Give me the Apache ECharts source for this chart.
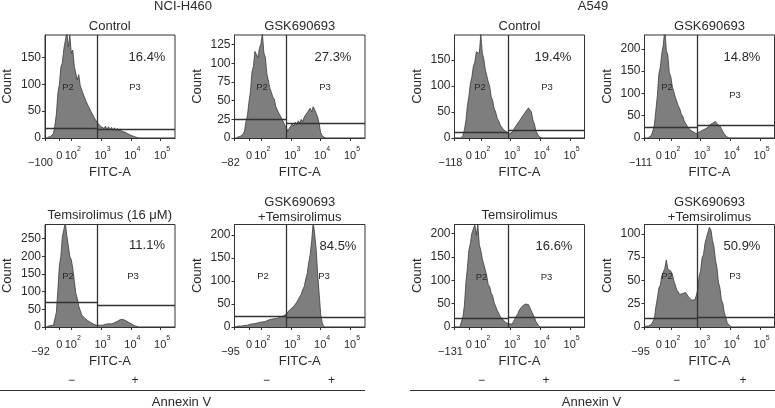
<!DOCTYPE html>
<html><head><meta charset="utf-8">
<script src="https://cdn.jsdelivr.net/npm/echarts@6/dist/echarts.min.js"></script>
<style>html,body{margin:0;padding:0;background:#fff}#c{width:775px;height:408px}</style>
</head><body><div id="c"></div>
<script>
// ---------- DATA ----------
// Display scale of the FITC-A (biexponential) axis: 10^2 -> 2, 10^3 -> 3, 10^4 -> 4, 10^5 -> 5
const binStep = 0.05;
const xMin = 1.117, xMax = 5.483;
const xTickPos = [1.117, 1.6, 2, 3, 4, 5];
const xTickText = [null, '0', '10{s|2}', '10{s|3}', '10{s|4}', '10{s|5}'];
const xMinLabels = ['\u2212100', '\u221282', '\u2212118', '\u2212111', '\u221292', '\u221295', '\u2212131', '\u221295'];

const panelTitles = [['Control'], ['GSK690693'], ['Control'], ['GSK690693'],
  ['Temsirolimus (16 \u03bcM)'], ['GSK690693', '+Temsirolimus'], ['Temsirolimus'], ['GSK690693', '+Temsirolimus']];
const pctLabels = ['16.4%', '27.3%', '19.4%', '14.8%', '11.1%', '84.5%', '16.6%', '50.9%'];

const yMax = [192, 138, 198, 231, 290, 223, 219, 110];
const yTicks = [[0, 50, 100, 150], [0, 25, 50, 75, 100, 125], [0, 50, 100, 150], [0, 50, 100, 150, 200],
  [0, 50, 100, 150, 200, 250], [0, 50, 100, 150, 200], [0, 50, 100, 150, 200], [0, 25, 50, 75, 100]];

// gates: vertical marker position, P2 (left) and P3 (right) horizontal levels
const gateX = [2.864, 2.863, 2.917, 2.883, 2.883, 2.863, 2.917, 2.897];
const gateLeftY = [17.5, 24.5, 11.5, 24, 70.8, 23.3, 19, 9.3];
const gateRightY = [15.6, 20, 14, 27.6, 61.3, 20.4, 21, 10.7];

// histogram counts, bins of width binStep starting at the given position
const h460ControlStart = 1.20;
const h460Control = [1,2,3,6,8,24,45,84,100,132, 140,166,168,198,170,192,158,164,134,132,
  108,118,98,100,82,84,68,71,56,58, 45,46,35,36,27,28,21,24,18,22,
  16,21,15,20,14,19,14,18,13,17, 12,15,11,13,8,10,5,6,3,2, 1,0];
const h460GskStart = 1.20;
const h460Gsk = [1,1,2,3,5,9,22,30,48,62, 88,96,116,112,108,120,126,140,114,108,
  86,85,67,66,55,52,42,42,33,34, 26,25,17,14,9,13,15,19,16,21,
  18,23,20,25,22,28,28,34,33,40, 35,42,38,37,28,19,7,3,1,0];
const a549ControlStart = 1.35;
const a549Control = [1,5,16,33,62,80,105,117,138,146, 166,168,162,200,164,152,132,131,108,99,
  79,72,56,50,38,33,25,23,17,16, 12,11,8,11,11,16,18,25,27,33,
  34,42,43,50,51,58,56,50,34,27, 14,8,3,1,0];
const a549GskStart = 1.25;
const a549Gsk = [1,2,6,16,30,63,96,144,160,190, 210,245,196,186,146,138,116,113,92,88,
  72,66,54,49,38,35,27,23,18,18, 14,14,10,13,13,17,17,20,20,23,
  24,29,29,33,33,37,32,32,27,21, 14,10,4,2,0];
const h460TemStart = 1.20;
const h460Tem = [2,3,4,4,5,8,42,106,174,200, 255,276,295,258,230,200,190,166,132,96,
  81,59,47,34,31,25,22,18,17,13, 13,8,9,5,6,5,8,5,9,8,
  9,9,12,9,13,12,16,16,20,21, 25,21,21,17,16,12,11,7,5,3, 1,0];
const h460ComboStart = 1.15;
const h460Combo = [0.5,1,2,3,2,4,3,6,4,7, 6,8,7,10,8,11,10,12,11,15,
  12,16,15,17,17,19,18,21,19,23, 22,24,24,28,28,33,34,39,40,45,
  47,54,57,66,71,82,88,104,116,140, 158,188,228,202,168,115,72,28,9,1, 0];
const a549TemStart = 1.30;
const a549Tem = [1,4,22,46,94,126,164,178,200,202, 219,196,219,176,164,146,145,122,109,91,
  86,72,66,52,48,36,33,23,21,15, 14,9,8,7,7,6,12,16,24,29,
  37,40,45,46,49,48,48,41,38,27, 21,12,8,2,0];
const a549ComboStart = 1.15;
const a549Combo = [1,2,1,2,3,5,9,22,31,42, 45,55,53,63,72,62,60,60,57,50,
  48,40,39,35,35,36,36,37,37,32, 33,29,30,29,33,39,54,60,74,78,
  90,91,102,107,104,93,86,72,64,48, 42,29,25,15,10,4,2,1,0];

const histStarts = [h460ControlStart, h460GskStart, a549ControlStart, a549GskStart, h460TemStart, h460ComboStart, a549TemStart, a549ComboStart];
const histCounts = [h460Control, h460Gsk, a549Control, a549Gsk, h460Tem, h460Combo, a549Tem, a549Combo];

const groupLabels = ['NCI-H460', 'A549'];
const signLabels = ['\u2212', '+'];
const bottomLabel = 'Annexin V';

// ---------- LAYOUT / STYLE ----------
const FONT = '"Liberation Sans", Arial, Helvetica, sans-serif';
const TXT = '#2a2a2a';
const LINE = '#333333';
const boxes = [
  {l: 44.5, t: 35, w: 130.5, h: 103}, {l: 234.5, t: 35, w: 130.5, h: 103},
  {l: 454.5, t: 35, w: 130, h: 103}, {l: 644.5, t: 35, w: 130, h: 103},
  {l: 44.5, t: 224.5, w: 130.5, h: 102.5}, {l: 234.5, t: 224.5, w: 130.5, h: 102.5},
  {l: 454.5, t: 224.5, w: 130, h: 102.5}, {l: 644.5, t: 224.5, w: 130, h: 102.5}
];
const pctPos = [[147,57],[333,57],[553,57],[742,57],[147,245],[338,246.5],[554,246.5],[742,246]];
const p2Pos = [[68,87],[262,87],[480,87],[667,87],[68,276],[263,276.5],[481.5,277],[667,276.5]];
const p3Pos = [[135,87],[325,87],[547,87],[735,95],[133,276],[324,276.5],[546.5,277],[735,276.5]];

const grids = [], xAxes = [], yAxes = [], series = [], graphics = [];

function txt(text, x, y, size) {
  graphics.push({
    type: 'text', silent: true, z: 100,
    style: {text: text, x: x, y: y, fill: TXT, font: size + 'px ' + FONT,
      textAlign: 'center', textVerticalAlign: 'middle'}
  });
}
function hline(x1, x2, y) {
  graphics.push({type: 'line', silent: true, z: 100, shape: {x1: x1, y1: y, x2: x2, y2: y},
    style: {stroke: LINE, lineWidth: 1}});
}

for (let i = 0; i < 8; i++) {
  const b = boxes[i];
  grids.push({left: b.l, top: b.t, width: b.w, height: b.h, show: true,
    borderColor: LINE, borderWidth: 1, backgroundColor: 'transparent'});
  xAxes.push({
    type: 'value', gridIndex: i, min: xMin, max: xMax,
    name: 'FITC-A', nameLocation: 'middle', nameGap: 28,
    nameTextStyle: {fontSize: 13, color: TXT, fontFamily: FONT},
    axisLine: {show: true, lineStyle: {color: LINE, width: 1}},
    axisTick: {show: true, length: 3, customValues: xTickPos, lineStyle: {color: LINE}},
    axisLabel: {
      customValues: xTickPos, margin: 8, color: TXT, fontFamily: FONT, hideOverlap: false,
      formatter: function (v) {
        let k = 0, best = 1e9;
        xTickPos.forEach((p, j) => { if (Math.abs(p - v) < best) { best = Math.abs(p - v); k = j; } });
        if (k === 0) return '';
        const t = xTickText[k] || '';
        const m = t.indexOf('{');
        if (m < 0) return '{b|' + t + '}';
        return '{d|' + t.slice(0, m) + '}' + t.slice(m);
      },
      rich: {
        b: {fontSize: 11, color: TXT, fontFamily: FONT, lineHeight: 15, verticalAlign: 'bottom'},
        d: {fontSize: 11, color: TXT, fontFamily: FONT, lineHeight: 15, verticalAlign: 'bottom', padding: [0, 0, 0, 3]},
        s: {fontSize: 7, color: TXT, fontFamily: FONT, lineHeight: 8, verticalAlign: 'top'}
      }
    },
    splitLine: {show: false}
  });
  yAxes.push({
    type: 'value', gridIndex: i, min: 0, max: yMax[i],
    name: 'Count', nameLocation: 'middle', nameGap: 31, nameRotate: 90,
    nameTextStyle: {fontSize: 13, color: TXT, fontFamily: FONT},
    axisLine: {show: true, lineStyle: {color: LINE, width: 1}},
    axisTick: {show: true, length: 3, customValues: yTicks[i], lineStyle: {color: LINE}},
    axisLabel: {customValues: yTicks[i], margin: 4, fontSize: 12, color: TXT, fontFamily: FONT, hideOverlap: false},
    splitLine: {show: false}
  });
  const counts = histCounts[i], st = histStarts[i];
  const data = counts.map((c, j) => [+(st + j * binStep).toFixed(3), c]);
  const g = gateX[i];
  series.push({
    type: 'line', xAxisIndex: i, yAxisIndex: i, data: data, showSymbol: false, clip: true,
    lineStyle: {color: '#3c3c3c', width: 0.8}, areaStyle: {color: '#7e7e7e', opacity: 1},
    markLine: {
      silent: true, symbol: ['none', 'none'], label: {show: false},
      lineStyle: {color: LINE, width: 1.3, type: 'solid'},
      data: [
        [{coord: [g, 0]}, {coord: [g, yMax[i]]}],
        [{coord: [xMin, gateLeftY[i]]}, {coord: [g, gateLeftY[i]]}],
        [{coord: [g, gateRightY[i]]}, {coord: [xMax, gateRightY[i]]}]
      ]
    }
  });
  // titles and annotations
  const cx = b.l + b.w / 2;
  const tl = panelTitles[i];
  if (tl.length === 1) txt(tl[0], cx, i < 4 ? 26 : 215, 13);
  else { txt(tl[0], cx, i < 4 ? 12 : 202.5, 13); txt(tl[1], cx, i < 4 ? 26 : 217, 13); }
  txt(pctLabels[i], pctPos[i][0], pctPos[i][1], 13);
  txt('P2', p2Pos[i][0], p2Pos[i][1], 9.5);
  txt('P3', p3Pos[i][0], p3Pos[i][1], 9.5);
  // lowest (negative) axis value, set below and left of its tick
  txt(xMinLabels[i], b.l - 4, b.t + b.h + 24.5, 11);
}

txt(groupLabels[0], 183, 6.5, 13);
txt(groupLabels[1], 593, 6.5, 13);
const signX = [[71.5, 135], [266.5, 331.5], [481.5, 546], [676.5, 743]];
signX.forEach(p => { txt(signLabels[0], p[0], 380.5, 12); txt(signLabels[1], p[1], 380.5, 12); });
hline(0, 365, 390.5);
hline(410, 775, 390.5);
txt(bottomLabel, 181.5, 402, 13);
txt(bottomLabel, 591.5, 402, 13);

const chart = echarts.init(document.getElementById('c'), null, {renderer: 'canvas'});
chart.setOption({
  animation: false, backgroundColor: '#fff',
  grid: grids, xAxis: xAxes, yAxis: yAxes, series: series, graphic: graphics
});
</script></body></html>
